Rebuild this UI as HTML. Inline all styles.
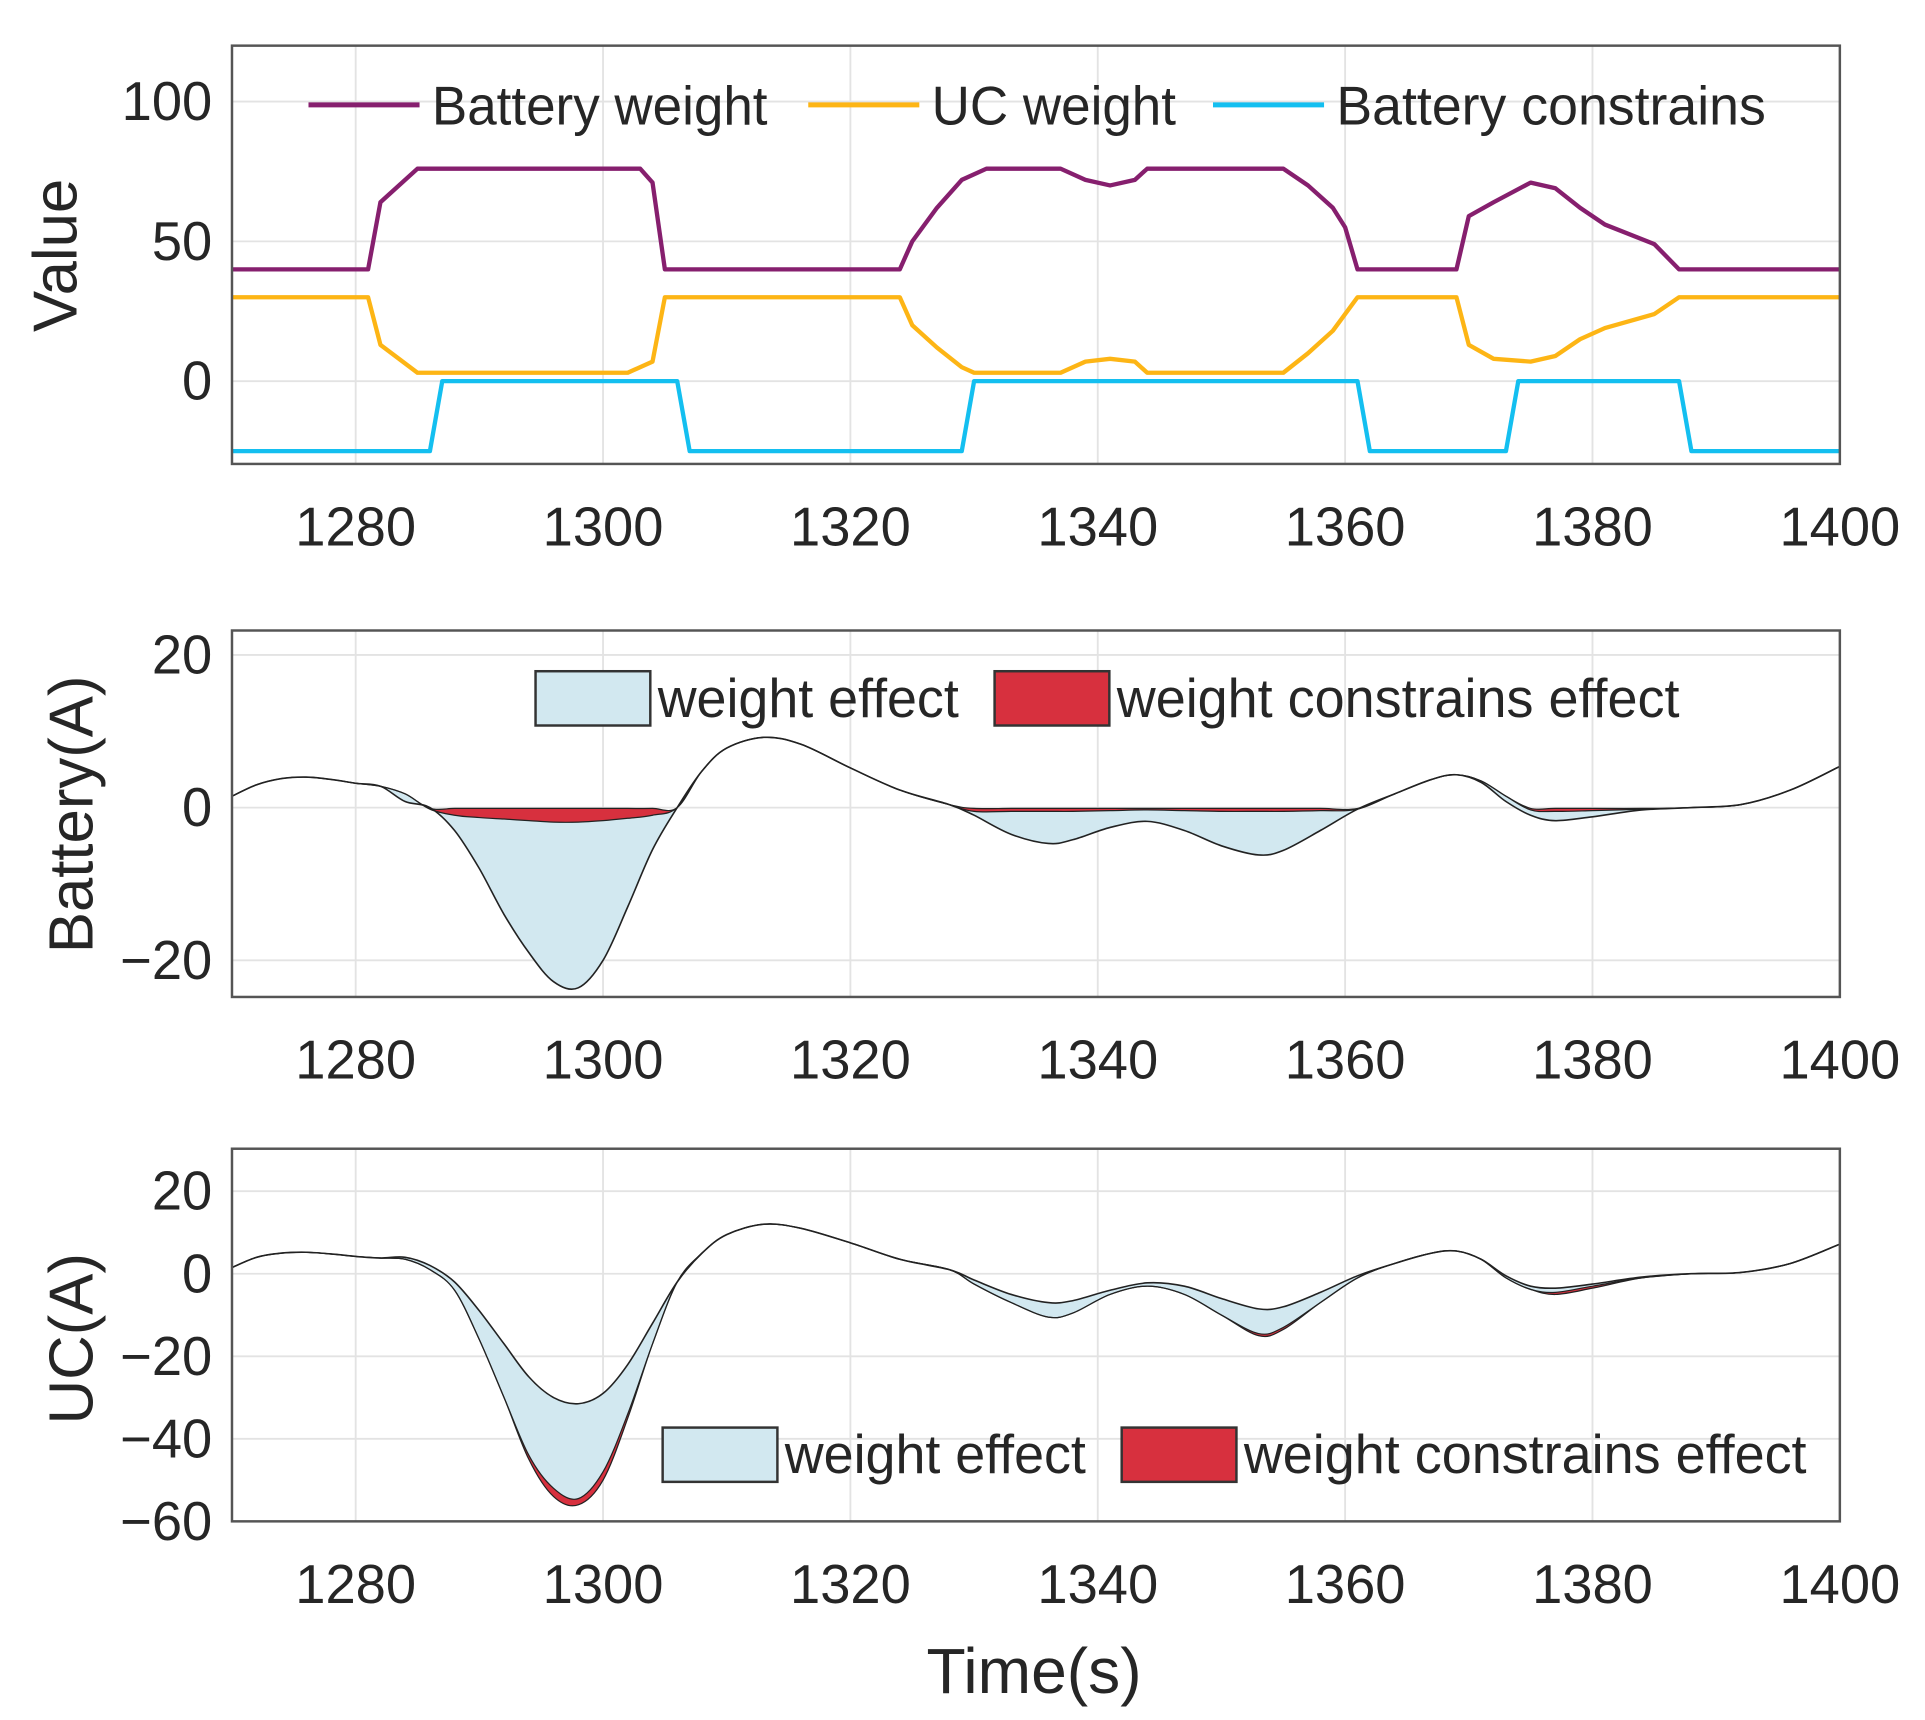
<!DOCTYPE html>
<html><head><meta charset="utf-8"><style>
html,body{margin:0;padding:0;background:#fff;}
svg{display:block;}
text{font-family:"Liberation Sans",Arial,sans-serif;fill:#262626;}
</style></head>
<body>
<svg id="chart" width="1925" height="1720" viewBox="0 0 1560 1394" preserveAspectRatio="none" xmlns="http://www.w3.org/2000/svg"></svg>
<script>
// ---- Top panel data ----
const wT = [1270,1281,1282,1285,1303,1304,1305,1324,1325,1327,1329,1331,1337,1339,1341,1343,1344,1355,1357,1359,1360,1361,1369,1370,1372,1375,1377,1379,1381,1385,1387,1400];
const batteryWeight = [40,40,64,76,76,71,40,40,50,62,72,76,76,72,70,72,76,76,70,62,55,40,40,59,64,71,69,62,56,49,40,40];
const ucT = [1270,1281,1282,1285,1302,1304,1305,1324,1325,1327,1329,1330,1337,1339,1341,1343,1344,1355,1357,1359,1361,1369,1370,1372,1375,1377,1379,1381,1385,1387,1400];
const ucWeight = [30,30,13,3,3,7,30,30,20,12,5,3,3,7,8,7,3,3,10,18,30,30,13,8,7,9,15,19,24,30,30];
const cT = [1270,1286,1287,1306,1307,1329,1330,1361,1362,1373,1374,1387,1388,1400];
const batteryConstr = [-25,-25,0,0,-25,-25,0,0,-25,-25,0,0,-25,-25];
const xTicks = [1280,1300,1320,1340,1360,1380,1400];
const topYTicks = [0,50,100];
const batYTicks = [-20,0,20];
const ucYTicks = [-60,-40,-20,0,20];

// ---- Current panels data ----
const T = [1270,1272,1274,1276,1278,1280,1282,1284,1286,1288,1290,1292,1294,1296,1298,1300,1302,1304,1306,1308,1310,1313,1316,1320,1324,1328,1330,1333,1336,1338,1341,1344,1347,1350,1353,1355,1358,1361,1364,1367,1369,1371,1373,1375,1377,1380,1384,1388,1392,1396,1400];
const batLower = [1.5,3,3.8,4,3.7,3.2,2.8,0.8,0,-3,-8,-14,-19,-22.8,-23.6,-20,-13,-5.5,0,4.8,7.8,9.2,8.3,5.2,2.3,0.4,-1,-3.5,-4.7,-4.2,-2.6,-1.8,-3,-5,-6.2,-5.6,-3,-0.2,1.8,3.7,4.3,3.3,0.8,-1,-1.7,-1.2,-0.3,0,0.4,2.3,5.4];
const batMid = [1.5,3,3.8,4,3.7,3.2,2.8,1.8,-0.2,-1,-1.3,-1.5,-1.7,-1.9,-1.9,-1.7,-1.4,-1,0,4.8,7.8,9.2,8.3,5.2,2.3,0.4,-0.5,-0.5,-0.5,-0.5,-0.4,-0.3,-0.4,-0.5,-0.5,-0.5,-0.4,-0.2,1.8,3.7,4.3,3.5,1.5,-0.3,-0.5,-0.4,-0.2,0,0.4,2.3,5.4];
const batUpper = [1.5,3,3.8,4,3.7,3.2,2.8,1.8,-0.1,-0.1,-0.1,-0.1,-0.1,-0.1,-0.1,-0.1,-0.1,-0.1,0,4.8,7.8,9.2,8.3,5.2,2.3,0.4,-0.1,-0.1,-0.1,-0.1,-0.1,-0.1,-0.1,-0.1,-0.1,-0.1,-0.1,-0.1,1.8,3.7,4.3,3.5,1.5,-0.1,-0.1,-0.1,-0.1,0,0.4,2.3,5.4];
const ucUpper = [1.5,4,5,5.2,4.8,4.2,3.8,4,2,-2,-9,-17,-25,-30,-31.5,-29,-22,-12,-2,5,9.5,12,11,7.5,3.5,1,-1.5,-5,-7,-6.5,-4,-2.2,-3,-6,-8.5,-8,-4.5,-0.5,2.5,5,5.5,3.5,-0.5,-3,-3.5,-2.5,-0.8,0,0.3,2.5,7.2];
const ucMid = [1.5,4,5,5.2,4.8,4.2,3.8,3.5,1,-4,-16,-30,-44,-52,-54.5,-48,-34,-17,-2,5,9.5,12,11,7.5,3.5,1,-2.5,-7,-10.5,-9.5,-5,-3,-5,-10,-14.5,-13,-7,-1,2.5,5,5.5,3.5,-1,-3.8,-4.5,-3,-1,0,0.3,2.5,7.2];
const ucLower = [1.5,4,5,5.2,4.8,4.2,3.8,3.5,1,-4,-16,-30,-45,-54,-56,-50,-35,-17,-2,5,9.5,12,11,7.5,3.5,1,-2.5,-7,-10.5,-9.5,-5,-3,-5,-10,-15,-13.5,-7,-1,2.5,5,5.5,3.5,-1,-3.8,-5,-3.5,-1,0,0.3,2.5,7.2];

const NS = 'http://www.w3.org/2000/svg';
const svg = document.getElementById('chart');
function mk(tag, attrs, parent){const e=document.createElementNS(NS,tag);for(const k in attrs)e.setAttribute(k,attrs[k]);(parent||svg).appendChild(e);return e;}

const X0=188, X1=1491, XMIN=1270, XMAX=1400;
function sx(t){return X0+(t-XMIN)/(XMAX-XMIN)*(X1-X0);}
function makeY(top,bottom,ymin,ymax){return v=>bottom-(v-ymin)/(ymax-ymin)*(bottom-top);}

function axes(name, top, bottom, sy, yTicks){
  const g=mk('g',{});
  
  
  xTicks.forEach(t=>{
    const l=mk('line',{x1:sx(t),x2:sx(t),y1:top,y2:bottom,stroke:'#e3e3e3','stroke-width':1.5},g);
    
    
    const tx=mk('text',{x:sx(t),y:bottom+66,'font-size':44,'text-anchor':'middle'},g);
    tx.textContent=t;
    
    
  });
  yTicks.forEach(v=>{
    const y=sy(v);
    const l=mk('line',{x1:X0,x2:X1,y1:y,y2:y,stroke:'#e3e3e3','stroke-width':1.5},g);
    
    
    const tx=mk('text',{x:172,y:y+15,'font-size':44,'text-anchor':'end'},g);
    tx.textContent=(v<0?'\u2212'+(-v):v);
    
    
  });
  return g;
}
function frame(name, top,bottom){
  const r=mk('rect',{x:X0,y:top,width:X1-X0,height:bottom-top,fill:'none',stroke:'#555','stroke-width':2});
  
  
}
function linePath(ts,vs,sy){return ts.map((t,i)=>(i?'L':'M')+sx(t).toFixed(1)+' '+sy(vs[i]).toFixed(1)).join(' ');}
function smoothPts(ts,vs,sy){
  const p=ts.map((t,i)=>[sx(t),sy(vs[i])]);
  let d='';
  for(let i=0;i<p.length-1;i++){
    const p0=p[Math.max(0,i-1)],p1=p[i],p2=p[i+1],p3=p[Math.min(p.length-1,i+2)];
    const c1=[p1[0]+(p2[0]-p0[0])/6,p1[1]+(p2[1]-p0[1])/6];
    const c2=[p2[0]-(p3[0]-p1[0])/6,p2[1]-(p3[1]-p1[1])/6];
    d+=' C'+c1[0].toFixed(1)+' '+c1[1].toFixed(1)+' '+c2[0].toFixed(1)+' '+c2[1].toFixed(1)+' '+p2[0].toFixed(1)+' '+p2[1].toFixed(1);
  }
  return {start:'M'+p[0][0].toFixed(1)+' '+p[0][1].toFixed(1), body:d};
}
function reversePath(ts,vs,sy){
  return smoothPts(ts.slice().reverse(),vs.slice().reverse(),sy);
}
function band(upper,lower,sy,fill,name){
  const a=smoothPts(T,upper,sy), b=reversePath(T,lower,sy);
  const d=a.start+a.body+' L'+b.start.slice(1)+b.body+' Z';
  const e=mk('path',{d:d,fill:fill,stroke:'none'});
  
  
}
function curve(vs,sy,name,w){
  const a=smoothPts(T,vs,sy);
  const e=mk('path',{d:a.start+a.body,fill:'none',stroke:'#222','stroke-width':w||1.3});
  
  
}
function ylabel(text,x,y,name){
  const e=mk('text',{x:x,y:y,'font-size':50,'text-anchor':'middle',transform:'rotate(-90 '+x+' '+y+')'});
  e.textContent=text;
  
  
}

// ===== Panel 1 =====
const y1=makeY(37,376,-29.6,120);
axes('top-panel',37,376,y1,topYTicks);
[[wT,batteryWeight,'#861F6E','battery-weight-line'],[ucT,ucWeight,'#FDB515','uc-weight-line'],[cT,batteryConstr,'#14BFF0','battery-constrains-line']].forEach(s=>{
  const e=mk('path',{d:linePath(s[0],s[1],y1),fill:'none',stroke:s[2],'stroke-width':3.5,'stroke-linejoin':'round'});
  
  
});
frame('top-panel',37,376);
ylabel('Value',62,207,'value-y-axis-title');
const leg1=[[250,'#861F6E','Battery weight',272],[655,'#FDB515','UC weight',198],[983,'#14BFF0','Battery constrains',348]];
leg1.forEach(l=>{
  const ln=mk('line',{x1:l[0],x2:l[0]+90,y1:85,y2:85,stroke:l[1],'stroke-width':4});
  
  
  const t=mk('text',{x:l[0]+100,y:101,'font-size':44,textLength:l[3],lengthAdjust:'spacingAndGlyphs'});
  t.textContent=l[2];
  
  
});

// ===== Panel 2 =====
const y2=makeY(511,808,-24.8,23.2);
axes('battery-panel',511,808,y2,batYTicks);
band(batMid,batLower,y2,'#D2E8F0','battery-weight-effect-area');
band(batUpper,batMid,y2,'#D7303E','battery-constrains-effect-area');
curve(batLower,y2,'battery-current-line');
curve(batMid,y2,'battery-mid-line',1);
curve(batUpper,y2,'battery-upper-line',1);
frame('battery-panel',511,808);
ylabel('Battery(A)',75,660,'battery-y-axis-title');

// ===== Panel 3 =====
const y3=makeY(931,1233,-60,30.3);
axes('uc-panel',931,1233,y3,ucYTicks);
band(ucUpper,ucMid,y3,'#D2E8F0','uc-weight-effect-area');
band(ucMid,ucLower,y3,'#D7303E','uc-constrains-effect-area');
curve(ucUpper,y3,'uc-current-line');
curve(ucMid,y3,'uc-mid-line',1);
curve(ucLower,y3,'uc-lower-line',1);
frame('uc-panel',931,1233);
ylabel('UC(A)',75,1085,'uc-y-axis-title');

const xt=mk('text',{x:838,y:1372,'font-size':52,'text-anchor':'middle'});
xt.textContent='Time(s)';



function patchLegend(y,items){
  items.forEach(it=>{
    const r=mk('rect',{x:it[0],y:y-22,width:93,height:44,fill:it[1],stroke:'#333','stroke-width':2});
    
    
    const t=mk('text',{x:it[0]+99,y:y+15,'font-size':44,textLength:it[3],lengthAdjust:'spacingAndGlyphs'});
    t.textContent=it[2];
    
    
  });
}
patchLegend(566,[[434,'#D2E8F0','weight effect',244],[806,'#D7303E','weight constrains effect',456]]);
patchLegend(1179,[[537,'#D2E8F0','weight effect',244],[909,'#D7303E','weight constrains effect',456]]);
</script>
</body></html>
